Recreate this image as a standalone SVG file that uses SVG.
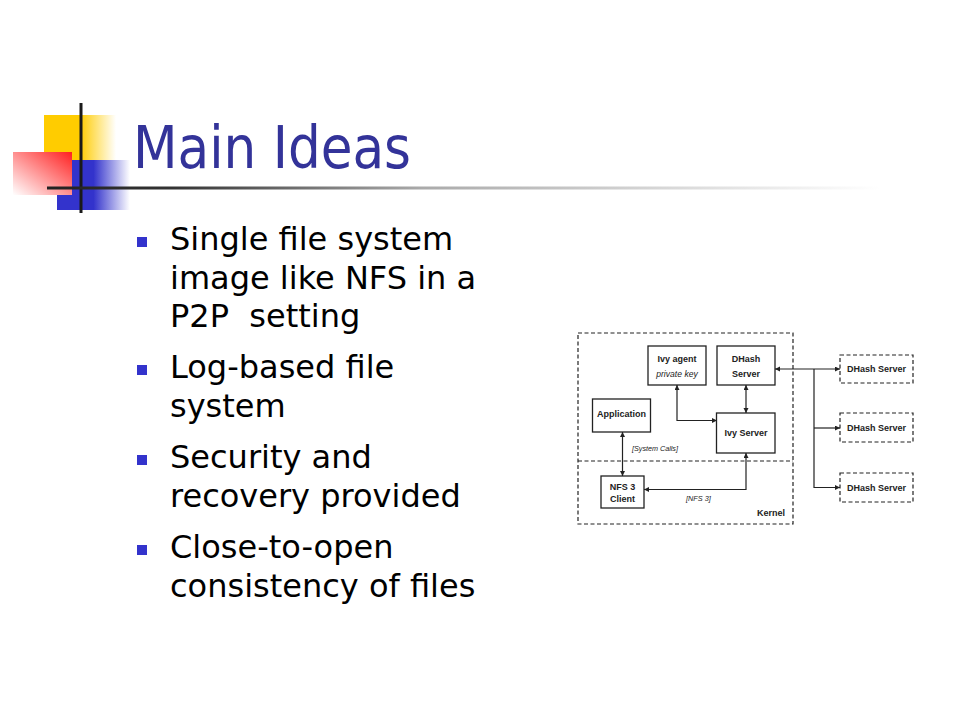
<svg xmlns="http://www.w3.org/2000/svg" width="960" height="720" viewBox="0 0 960 720">
<defs>
<linearGradient id="gY" x1="0" y1="0" x2="1" y2="0"><stop offset="0" stop-color="#FFCC00"/><stop offset="0.5" stop-color="#FFCC00"/><stop offset="1" stop-color="#FFCC00" stop-opacity="0"/></linearGradient>
<linearGradient id="gB" x1="0" y1="0" x2="1" y2="0"><stop offset="0" stop-color="#3333CC"/><stop offset="0.5" stop-color="#3333CC"/><stop offset="1" stop-color="#3333CC" stop-opacity="0"/></linearGradient>
<linearGradient id="gR" x1="1" y1="0" x2="0" y2="1"><stop offset="0" stop-color="#FF2020"/><stop offset="1" stop-color="#FFFFFF"/></linearGradient>
<linearGradient id="gL" gradientUnits="userSpaceOnUse" x1="47" y1="0" x2="880" y2="0"><stop offset="0" stop-color="#222"/><stop offset="0.15" stop-color="#333"/><stop offset="0.45" stop-color="#aaa"/><stop offset="1" stop-color="#fff"/></linearGradient>
<marker id="ah" markerUnits="userSpaceOnUse" markerWidth="6" markerHeight="6" refX="5" refY="2.5" orient="auto-start-reverse"><path d="M0,0 L5,2.5 L0,5 z" fill="#222"/></marker>
<style>
.title{font-family:"DejaVu Sans","Liberation Sans",sans-serif;font-size:58px;fill:#333399}
.bul{font-family:"DejaVu Sans","Liberation Sans",sans-serif;font-size:32px;fill:#000;white-space:pre}
.bsq{fill:#3333CC}
.box{fill:#fff;stroke:#222;stroke-width:1.3}
.dbox{fill:none;stroke:#222;stroke-width:1.2;stroke-dasharray:4 2.5}
.lbl{font-family:"Liberation Sans",Arial,sans-serif;font-size:9px;font-weight:bold;fill:#222;text-anchor:middle}
.it{font-family:"Liberation Sans",Arial,sans-serif;font-style:italic;fill:#222}
.con{fill:none;stroke:#222;stroke-width:1.2;marker-start:url(#ah);marker-end:url(#ah)}
.one{fill:none;stroke:#222;stroke-width:1.2;marker-end:url(#ah)}
</style>
</defs>
<rect width="960" height="720" fill="#fff"/>
<g id="logo">
<rect x="44" y="115" width="72" height="45" fill="url(#gY)"/>
<rect x="57" y="160" width="73" height="50" fill="url(#gB)"/>
<rect x="13" y="152" width="59" height="43" fill="url(#gR)"/>
<rect x="79.5" y="103" width="3" height="110" fill="#1a1a1a"/>
<rect x="47" y="186.5" width="833" height="3" fill="url(#gL)"/>
</g>
<text class="title" x="133" y="168" textLength="278" lengthAdjust="spacingAndGlyphs">Main Ideas</text>
<g id="bullets">
<rect class="bsq" x="137" y="237" width="10" height="10"/>
<text class="bul" x="170" y="250">Single file system</text>
<text class="bul" x="170" y="288.5">image like NFS in a</text>
<text class="bul" x="170" y="327" xml:space="preserve">P2P  setting</text>
<rect class="bsq" x="137" y="365" width="10" height="10"/>
<text class="bul" x="170" y="378">Log-based file</text>
<text class="bul" x="170" y="417">system</text>
<rect class="bsq" x="137" y="455" width="10" height="10"/>
<text class="bul" x="170" y="468">Security and</text>
<text class="bul" x="170" y="507">recovery provided</text>
<rect class="bsq" x="137" y="545" width="10" height="10"/>
<text class="bul" x="170" y="558">Close-to-open</text>
<text class="bul" x="170" y="597">consistency of files</text>
</g>
<g id="frame">
<rect class="dbox" x="578" y="333" width="215" height="191"/>
<line class="dbox" x1="578" y1="461" x2="793" y2="461"/>
<text class="lbl" x="771" y="516" font-size="8.6">Kernel</text>
</g>
<g id="connectors">
<path class="con" d="M622.5,432 V476"/>
<path class="con" d="M677,385 V420.5 H717"/>
<path class="con" d="M746,385 V413"/>
<path class="con" d="M746,453 V489.5 H644"/>
<path class="con" d="M775,369 H840"/>
<path class="one" d="M814,369 V487.5 H840"/>
<path class="one" d="M814,428 H840"/>
<text class="it" x="632" y="450.5" font-size="7.2">[System Calls]</text>
<text class="it" x="686" y="501" font-size="7.3">[NFS 3]</text>
</g>
<g id="ivy-agent">
<rect class="box" x="648" y="346" width="58" height="39"/>
<text class="lbl" x="677" y="362">Ivy agent</text>
<text class="it" x="677" y="377" font-size="8.6" text-anchor="middle">private key</text>
</g>
<g id="dhash-server">
<rect class="box" x="717" y="346" width="58" height="39"/>
<text class="lbl" x="746" y="362">DHash</text>
<text class="lbl" x="746" y="376.5">Server</text>
</g>
<g id="application">
<rect class="box" x="592.5" y="399" width="58" height="33"/>
<text class="lbl" x="621.5" y="417">Application</text>
</g>
<g id="ivy-server">
<rect class="box" x="716.5" y="413" width="58.5" height="40"/>
<text class="lbl" x="746" y="436">Ivy Server</text>
</g>
<g id="nfs-client">
<rect class="box" x="601" y="476" width="43" height="32"/>
<text class="lbl" x="622.5" y="490">NFS 3</text>
<text class="lbl" x="622.5" y="502">Client</text>
</g>
<g id="dhash-1">
<rect class="dbox" x="840" y="355" width="73" height="28"/>
<text class="lbl" x="876.5" y="372">DHash Server</text>
</g>
<g id="dhash-2">
<rect class="dbox" x="840" y="413" width="73" height="29"/>
<text class="lbl" x="876.5" y="430.5">DHash Server</text>
</g>
<g id="dhash-3">
<rect class="dbox" x="840" y="473" width="73" height="29"/>
<text class="lbl" x="876.5" y="490.5">DHash Server</text>
</g>
</svg>
